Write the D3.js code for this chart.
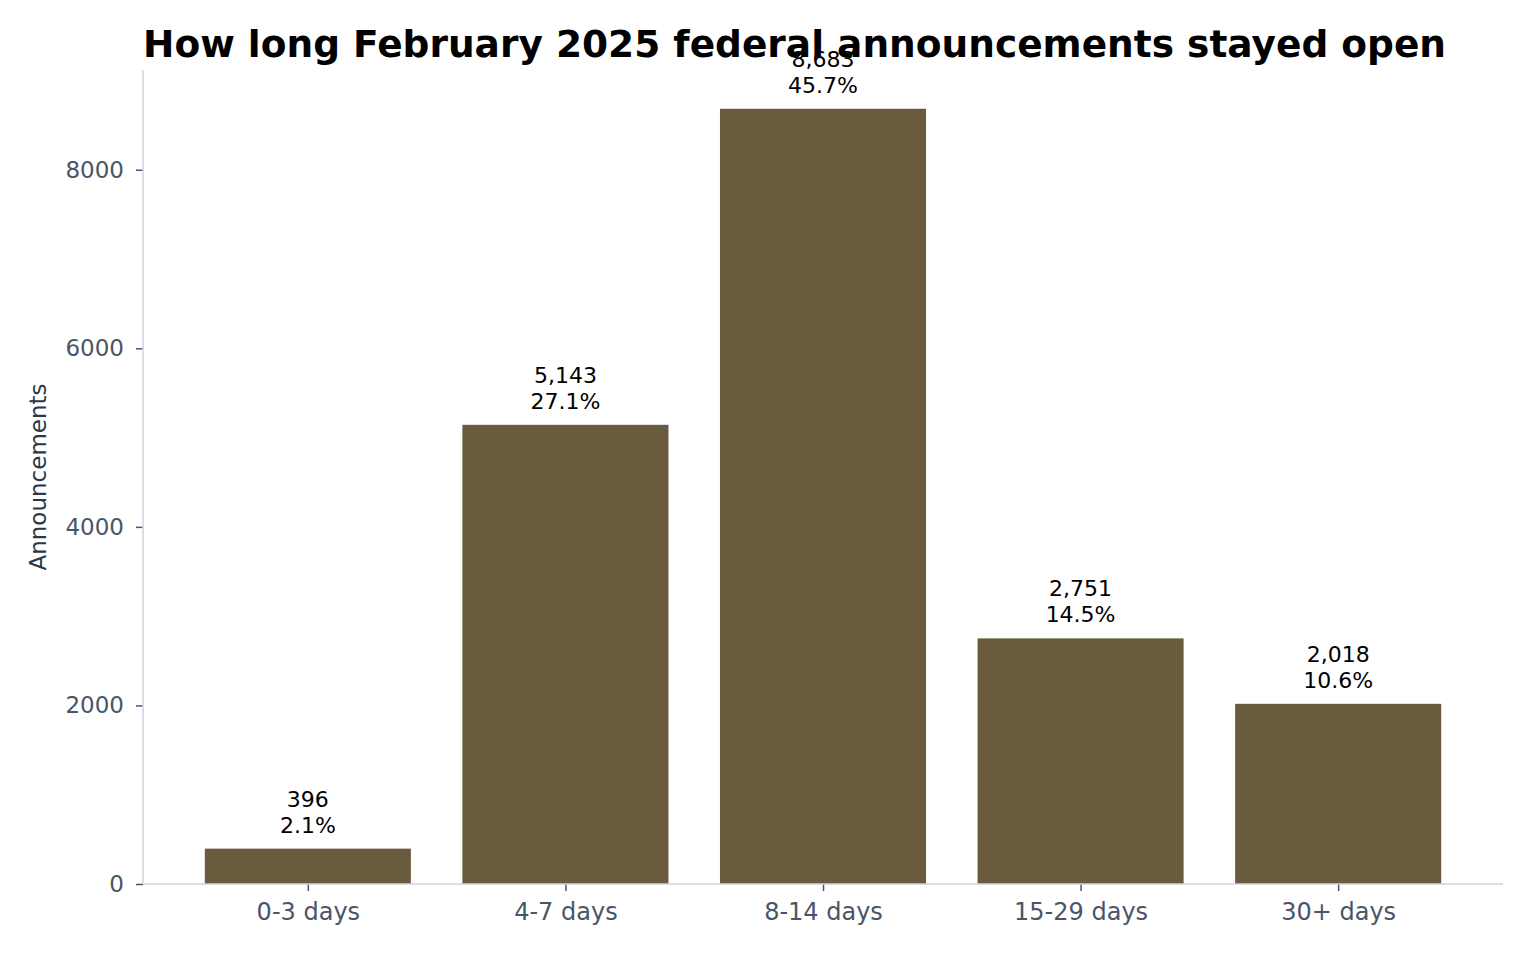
<!DOCTYPE html>
<html>
<head>
<meta charset="utf-8">
<script src="https://cdn.jsdelivr.net/npm/d3@7"></script>
<style>
  body { margin: 0; background: #fff; }
  svg { font-family: "DejaVu Sans", sans-serif; }
</style>
</head>
<body>
<svg id="chart"></svg>
<script>
const categories = ['0-3 days', '4-7 days', '8-14 days', '15-29 days', '30+ days']
const counts = [396, 5143, 8683, 2751, 2018]
const shares = ['2.1%', '27.1%', '45.7%', '14.5%', '10.6%']
const yTicks = [0, 2000, 4000, 6000, 8000]

const width = 1530
const height = 954
const margin = { top: 70, right: 27, bottom: 70, left: 143 }

const svg = d3.select('#chart')
  .attr('width', width)
  .attr('height', height)

const data = categories.map((c, i) => ({ cat: c, count: counts[i], share: shares[i] }))

// band layout like matplotlib: 0.8 wide bars, 0.24 margin on each side
const n = categories.length
const x = d3.scaleLinear()
  .domain([-0.64, n - 1 + 0.64])
  .range([margin.left, width - margin.right])

const y = d3.scaleLinear()
  .domain([0, d3.max(counts) * 1.05])
  .range([height - margin.bottom, margin.top])

const bw = x(0.4) - x(-0.4)

svg.selectAll('rect.bar')
  .data(data)
  .enter().append('rect')
  .attr('class', 'bar')
  .attr('x', (d, i) => x(i) - bw / 2)
  .attr('y', d => y(d.count))
  .attr('width', bw)
  .attr('height', d => y(0) - y(d.count))
  .style('fill', '#6b5b3e')

// value labels
const lab = svg.selectAll('text.val')
  .data(data)
  .enter().append('text')
  .attr('class', 'val')
  .attr('text-anchor', 'middle')
  .style('font-size', '22px')
  .style('fill', '#000')
lab.append('tspan')
  .attr('x', (d, i) => x(i))
  .attr('y', d => y(d.count) - 42)
  .text(d => d3.format(',')(d.count))
lab.append('tspan')
  .attr('x', (d, i) => x(i))
  .attr('y', d => y(d.count) - 16)
  .text(d => d.share)

// axes
const yAxis = d3.axisLeft(y).tickValues(yTicks).tickSize(7).tickPadding(12).tickFormat(d3.format('d'))
const gy = svg.append('g')
  .attr('transform', `translate(${margin.left},0)`)
  .call(yAxis)

const xAxis = d3.axisBottom(x).tickValues(d3.range(n)).tickSize(7).tickPadding(12).tickFormat(i => categories[i])
const gx = svg.append('g')
  .attr('transform', `translate(0,${height - margin.bottom})`)
  .call(xAxis)

svg.selectAll('.domain').remove()
svg.selectAll('.tick line').style('stroke', '#4a5568').style('stroke-width', 1.5)
svg.selectAll('.tick text')
  .style('font-family', '"DejaVu Sans", sans-serif')
  .style('fill', '#4a5568')
gy.selectAll('.tick text').style('font-size', '23px')
gx.selectAll('.tick text').style('font-size', '24px')

svg.append('line')
  .attr('x1', margin.left).attr('x2', margin.left)
  .attr('y1', margin.top).attr('y2', height - margin.bottom)
  .style('stroke', '#cbd5e0').style('stroke-width', 1.5)
svg.append('line')
  .attr('x1', margin.left).attr('x2', width - margin.right)
  .attr('y1', height - margin.bottom).attr('y2', height - margin.bottom)
  .style('stroke', '#cbd5e0').style('stroke-width', 1.5)

svg.append('text')
  .attr('transform', `translate(46,${(margin.top + height - margin.bottom) / 2}) rotate(-90)`)
  .attr('text-anchor', 'middle')
  .style('font-size', '23px')
  .style('fill', '#2d3748')
  .text('Announcements')

svg.append('text')
  .attr('x', margin.left)
  .attr('y', 57)
  .style('font-size', '37.5px')
  .style('font-weight', 'bold')
  .style('fill', '#000')
  .text('How long February 2025 federal announcements stayed open')
</script>
</body>
</html>
